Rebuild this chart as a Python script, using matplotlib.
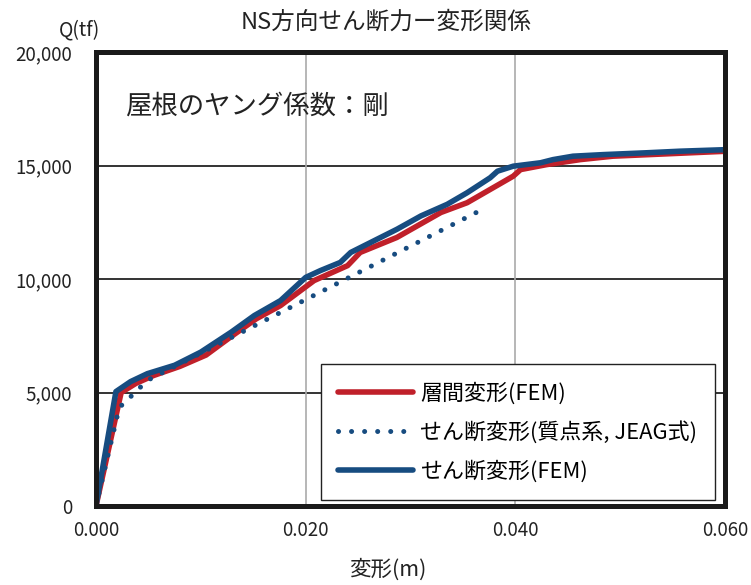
import matplotlib
matplotlib.use('Agg')
import matplotlib.pyplot as plt
from matplotlib.ticker import FuncFormatter

plt.rcParams['font.family'] = ['Noto Sans CJK JP', 'DejaVu Sans']

# 層間変形 (FEM)
red_x = [0, 0.0024, 0.0038, 0.0055, 0.008, 0.0105, 0.013, 0.0153, 0.0176, 0.0208,
         0.024, 0.0252, 0.0287, 0.0329, 0.0354, 0.0398, 0.0405, 0.043, 0.0462, 0.0493, 0.0602]
red_y = [0, 5000, 5400, 5750, 6150, 6650, 7500, 8250, 8830, 9930,
         10590, 11170, 11830, 12930, 13360, 14530, 14820, 15040, 15260, 15410, 15630]

# せん断変形 (質点系, JEAG式)
dot_x = [0, 0.0022, 0.0026, 0.0034, 0.0042, 0.0051, 0.037]
dot_y = [0, 4300, 4520, 4855, 5220, 5580, 13100]

# せん断変形 (FEM)
blue_x = [0, 0.0019, 0.0033, 0.0049, 0.0075, 0.010, 0.0129, 0.0151, 0.0176, 0.020,
          0.0214, 0.0233, 0.0243, 0.0262, 0.0287, 0.031, 0.0335, 0.0354, 0.0376, 0.0383,
          0.0398, 0.0424, 0.0436, 0.0455, 0.0484, 0.0525, 0.0557, 0.0602]
blue_y = [0, 5040, 5480, 5830, 6200, 6780, 7660, 8390, 9050, 10070,
          10370, 10730, 11170, 11610, 12190, 12780, 13290, 13800, 14460, 14750,
          14970, 15120, 15260, 15410, 15480, 15560, 15630, 15700]

labels = ['層間変形(FEM)', 'せん断変形(質点系, JEAG式)', 'せん断変形(FEM)']
red = '#c0202a'
blue = '#174c80'

fig = plt.figure(figsize=(7.51, 5.85), dpi=100)
ax = fig.add_axes([96/751, 79/585, 629/751, 454/585])

ax.plot(red_x, red_y, color=red, lw=4, solid_capstyle='round', label=labels[0], zorder=3)
ax.plot(dot_x, dot_y, color=blue, lw=3.6, linestyle=(0, (0.01, 2.6)),
        dash_capstyle='round', label=labels[1], zorder=4)
ax.plot(blue_x, blue_y, color=blue, lw=4, solid_capstyle='round', label=labels[2], zorder=5)

ax.set_xlim(0, 0.06)
ax.set_ylim(0, 20000)
ax.set_xticks([0, 0.02, 0.04, 0.06])
ax.set_yticks([0, 5000, 10000, 15000, 20000])
ax.xaxis.set_major_formatter(FuncFormatter(lambda v, p: '{:.3f}'.format(v)))
ax.yaxis.set_major_formatter(FuncFormatter(lambda v, p: '{:,.0f}'.format(v)))
ax.tick_params(length=0, labelsize=13.5, colors='#222222')
ax.tick_params(axis='y', pad=17)
ax.tick_params(axis='x', pad=10)

for v in [5000, 10000, 15000]:
    ax.axhline(v, color='#333333', lw=1.4, zorder=1)
for v in [0.02, 0.04]:
    ax.axvline(v, color='#aaaaaa', lw=1.2, zorder=1)

for s in ax.spines.values():
    s.set_linewidth(3.6)
    s.set_color('#1a1a1a')
    s.set_zorder(6)

leg = ax.legend(loc='lower right', bbox_to_anchor=(0.984, 0.013), borderaxespad=0,
                fontsize=15.8, handlelength=3.4, handletextpad=0.35, labelspacing=0.75,
                borderpad=0.8, fancybox=False, framealpha=1, edgecolor='#222222')
leg.get_frame().set_linewidth(1.0)
leg.set_zorder(7)

fig.text(125/751, 1 - 106/585, '屋根のヤング係数：剛', fontsize=19, va='center', ha='left',
         color='#222222')
fig.text(386/751, 1 - 22/585, 'NS方向せん断力ー変形関係', fontsize=17, va='center',
         ha='center', color='#222222')
fig.text(80/751, 1 - 30/585, 'Q(tf)', fontsize=14, va='center', ha='center', color='#222222')
fig.text(388/751, 1 - 570/585, '変形(m)', fontsize=15.5, va='center', ha='center',
         color='#222222')

fig.savefig('out.png', dpi=100)
